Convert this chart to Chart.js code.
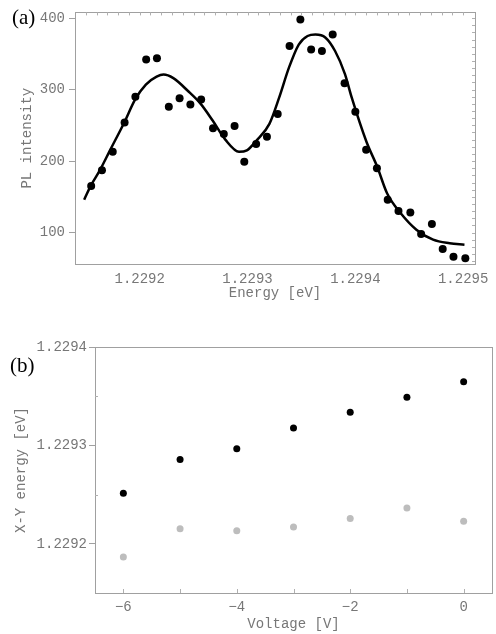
<!DOCTYPE html>
<html lang="en">
<head>
<meta charset="UTF-8">
<title>PL spectrum and X-Y energy</title>
<script src="https://cdn.jsdelivr.net/npm/chart.js"></script>
<style>
    body { margin: 0; padding: 0; background: #fff; }
    .page { position: relative; width: 496px; height: 634px; }
    .panel-label {
        position: absolute;
        font-family: "Liberation Serif", "Times New Roman", serif;
        font-size: 21px;
        line-height: 21px;
        color: #000;
    }
    #chartA { position: absolute; left: 0; top: 0; }
    #chartB { position: absolute; left: 0; top: 310px; }
</style>
</head>
<body>
<div class="page">
    <canvas id="chartA" width="496" height="302"></canvas>
    <canvas id="chartB" width="496" height="324"></canvas>
    <div class="panel-label" style="left:12px; top:7px;">(a)</div>
    <div class="panel-label" style="left:10px; top:355px;">(b)</div>
</div>

<script>
// ---- panel (a): PL spectrum ----
var energyA = [1.229155, 1.229165, 1.229175, 1.229186, 1.229196, 1.229206, 1.229216,
    1.229227, 1.229237, 1.229247, 1.229257, 1.229268, 1.229278, 1.229288, 1.229297,
    1.229308, 1.229318, 1.229328, 1.229339, 1.229349, 1.229359, 1.229369, 1.229379,
    1.229390, 1.229400, 1.229410, 1.229420, 1.229430, 1.229440, 1.229451, 1.229461,
    1.229471, 1.229481, 1.229491, 1.229502];
var intensityA = [165, 187, 213, 254, 290, 342, 344, 276, 288, 279, 286, 246, 238, 249, 199,
    224, 234, 266, 361, 398, 356, 354, 377, 309, 269, 216, 190, 146, 130, 128, 98,
    112, 77, 66, 64];

// fitted curve
var fitEnergy = [1.2291485, 1.2291548, 1.2291630, 1.2291721, 1.2291857, 1.2291957, 1.2292057,
    1.2292157, 1.2292221, 1.2292312, 1.2292448, 1.2292566, 1.2292675, 1.2292794, 1.2292921,
    1.2292994, 1.2293085, 1.2293203, 1.2293294, 1.2293385, 1.2293475, 1.2293557, 1.2293630,
    1.2293721, 1.2293812, 1.2293903, 1.2293966, 1.2294103, 1.2294203, 1.2294294, 1.2294421,
    1.2294566, 1.2294721, 1.2294875, 1.2295012];
var fitIntensity = [146, 166, 187, 214, 254, 286, 307, 318, 321, 316, 298, 280, 257, 230, 213,
    215, 229, 252, 289, 331, 363, 375, 377, 373, 354, 322, 289, 227, 192, 155, 127,
    104, 90, 85, 83];

var xTicksA = [1.2292, 1.2293, 1.2294, 1.2295];
var yTicksA = [100, 200, 300, 400];

// ---- panel (b): X-Y energy vs voltage ----
var voltage = [-6, -5, -4, -3, -2, -1, 0];
var energyHigh = [1.2292513, 1.2292857, 1.2292965, 1.2293176, 1.2293337, 1.2293490, 1.2293646];
var energyLow = [1.2291867, 1.2292153, 1.2292133, 1.2292170, 1.2292258, 1.2292363, 1.2292228];

var xTicksB = [-6, -4, -2, 0];
var yTicksB = [1.2292, 1.2293, 1.2294];

var textGray = '#777777';
var axisGray = '#a0a0a0';
var mono = { family: '"Liberation Mono", "Courier New", monospace', size: 14 };

function pairs(xs, ys) {
    return xs.map(function (x, i) { return { x: x, y: ys[i] }; });
}
function fixTicks(list) {
    return function (scale) {
        scale.ticks = list.map(function (v) { return { value: v }; });
    };
}
function fixSize(prop, size) {
    return function (scale) { scale[prop] = size; };
}

// small inward tick marks along the frame
function innerTicks(specs) {
    return {
        id: 'innerTicks',
        afterDraw: function (chart) {
            var ctx = chart.ctx, a = chart.chartArea;
            ctx.save();
            ctx.strokeStyle = '#b0b0b0';
            ctx.lineWidth = 1;
            specs.forEach(function (s) {
                var scale = chart.scales[s.axis];
                for (var v = s.from; v <= s.to + s.step / 2; v += s.step) {
                    var p = Math.round(scale.getPixelForValue(v)) + 0.5;
                    ctx.beginPath();
                    if (s.side === 'top') { ctx.moveTo(p, a.top); ctx.lineTo(p, a.top + s.len); }
                    if (s.side === 'bottom') { ctx.moveTo(p, a.bottom); ctx.lineTo(p, a.bottom - s.len); }
                    if (s.side === 'right') { ctx.moveTo(a.right, p); ctx.lineTo(a.right - s.len, p); }
                    if (s.side === 'left') { ctx.moveTo(a.left, p); ctx.lineTo(a.left + s.len, p); }
                    ctx.stroke();
                }
            });
            ctx.restore();
        }
    };
}

function frameAxis(position, size) {
    var isX = position === 'top' || position === 'bottom';
    return {
        type: 'linear',
        position: position,
        display: true,
        grid: { display: false, drawTicks: false },
        border: { display: true, color: axisGray, width: 1 },
        ticks: { display: false },
        afterFit: fixSize(isX ? 'height' : 'width', size)
    };
}

new Chart(document.getElementById('chartA').getContext('2d'), {
    type: 'scatter',
    data: {
        datasets: [{
            label: 'fit',
            data: pairs(fitEnergy, fitIntensity),
            showLine: true,
            borderColor: '#000',
            borderWidth: 2.5,
            pointRadius: 0,
            cubicInterpolationMode: 'monotone',
            fill: false
        }, {
            label: 'data',
            data: pairs(energyA, intensityA),
            backgroundColor: '#000',
            borderColor: '#000',
            pointRadius: 4,
            pointBorderWidth: 0
        }]
    },
    options: {
        responsive: false,
        animation: false,
        layout: { padding: { top: 12, right: 14, left: 0, bottom: 0 } },
        plugins: { legend: { display: false }, tooltip: { enabled: false } },
        scales: {
            x: {
                type: 'linear',
                min: 1.22914,
                max: 1.229511,
                grid: { display: false, drawTicks: false },
                border: { color: axisGray },
                afterBuildTicks: fixTicks(xTicksA),
                afterFit: fixSize('height', 38),
                ticks: {
                    color: textGray, font: mono, padding: 7, maxRotation: 0,
                    callback: function (v) { return v.toFixed(4); }
                },
                title: {
                    display: true, text: 'Energy [eV]', color: textGray, font: mono,
                    padding: { top: 0, bottom: 0 }
                }
            },
            y: {
                min: 56,
                max: 408,
                grid: { display: true, drawOnChartArea: false, drawTicks: true, tickLength: 6, color: axisGray },
                border: { color: axisGray },
                afterBuildTicks: fixTicks(yTicksA),
                afterFit: fixSize('width', 75),
                ticks: { color: textGray, font: mono, padding: 4 },
                title: {
                    display: true, text: 'PL intensity', color: textGray, font: mono,
                    padding: { top: 19, bottom: 0 }
                }
            },
            x2: Object.assign(frameAxis('top', 0), { min: 1.22914, max: 1.229511 }),
            y2: Object.assign(frameAxis('right', 0), { min: 56, max: 408 })
        }
    },
    plugins: [innerTicks([
        { axis: 'x2', side: 'top', from: 1.22915, to: 1.2295, step: 0.00001, len: 3 },
        { axis: 'y2', side: 'right', from: 60, to: 400, step: 10, len: 3 }
    ])]
});

new Chart(document.getElementById('chartB').getContext('2d'), {
    type: 'scatter',
    data: {
        datasets: [{
            label: 'upper',
            data: pairs(voltage, energyHigh),
            backgroundColor: '#000',
            borderColor: '#000',
            pointRadius: 3.5,
            pointBorderWidth: 0
        }, {
            label: 'lower',
            data: pairs(voltage, energyLow),
            backgroundColor: '#bdbdbd',
            borderColor: '#bdbdbd',
            pointRadius: 3.5,
            pointBorderWidth: 0
        }]
    },
    options: {
        responsive: false,
        animation: false,
        layout: { padding: { top: 37, right: 4, left: 0, bottom: 0 } },
        plugins: { legend: { display: false }, tooltip: { enabled: false } },
        scales: {
            x: {
                type: 'linear',
                min: -6.5,
                max: 0.5,
                grid: { display: false, drawTicks: false },
                border: { color: axisGray },
                afterBuildTicks: fixTicks(xTicksB),
                afterFit: fixSize('height', 41),
                ticks: {
                    color: textGray, font: mono, padding: 6,
                    callback: function (v) { return v < 0 ? '\u2212' + Math.abs(v) : String(v); }
                },
                title: {
                    display: true, text: 'Voltage [V]', color: textGray, font: mono,
                    padding: { top: 0, bottom: 1 }
                }
            },
            y: {
                min: 1.22915,
                max: 1.2294,
                grid: { display: true, drawOnChartArea: false, drawTicks: true, tickLength: 6, color: axisGray },
                border: { color: axisGray },
                afterBuildTicks: fixTicks(yTicksB),
                afterFit: fixSize('width', 95),
                ticks: {
                    color: textGray, font: mono, padding: 2,
                    callback: function (v) { return v.toFixed(4); }
                },
                title: {
                    display: true, text: 'X-Y energy [eV]', color: textGray, font: mono,
                    padding: { top: 13, bottom: 0 }
                }
            },
            x2: Object.assign(frameAxis('top', 0), { min: -6.5, max: 0.5 }),
            y2: Object.assign(frameAxis('right', 0), { min: 1.22915, max: 1.2294 })
        }
    },
    plugins: [innerTicks([
        { axis: 'x', side: 'bottom', from: -6, to: 0, step: 1, len: 4 },
        { axis: 'y', side: 'left', from: 1.22925, to: 1.22935, step: 0.0001, len: 3 }
    ])]
});
</script>
</body>
</html>
